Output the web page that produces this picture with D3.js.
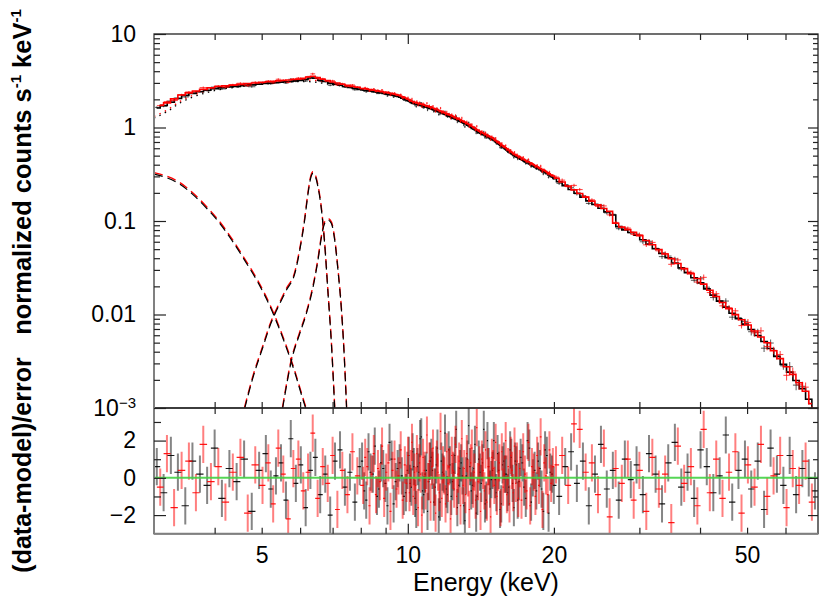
<!DOCTYPE html>
<html>
<head>
<meta charset="utf-8">
<script src="https://cdn.jsdelivr.net/npm/d3@7"></script>
<style>
  body { margin: 0; background: #fff; }
  text { font-family: "Liberation Sans", Arial, Helvetica, sans-serif; }
</style>
</head>
<body>
<script>
// ---------------- data ----------------
// FPMA (black): bin centres (keV), folded model, residuals (data-model)/error
var energyA = [3.04, 3.14, 3.25, 3.36, 3.48, 3.60, 3.73, 3.86, 4.00, 4.14, 4.29, 4.44, 4.60, 4.77, 4.94,
  5.10, 5.22, 5.35, 5.48, 5.61, 5.74, 5.88, 6.02, 6.16, 6.30, 6.45, 6.60, 6.76, 6.92, 7.08, 7.25, 7.42, 7.60, 7.78, 7.96,
  8.05, 8.13, 8.21, 8.30, 8.38, 8.47, 8.55, 8.64, 8.72, 8.81, 8.90, 8.99, 9.08, 9.17, 9.26, 9.35, 9.44, 9.53, 9.62, 9.72, 9.81, 9.91, 9.98,
  10.05, 10.11, 10.17, 10.23, 10.29, 10.35, 10.41, 10.47, 10.54, 10.60, 10.66, 10.72, 10.79, 10.85, 10.92, 10.98, 11.05, 11.11, 11.18, 11.24,
  11.31, 11.38, 11.45, 11.51, 11.58, 11.65, 11.72, 11.79, 11.86, 11.93,
  12.00, 12.07, 12.14, 12.21, 12.29, 12.36, 12.43, 12.50, 12.58, 12.65, 12.73, 12.80, 12.88, 12.96, 13.04, 13.11, 13.19, 13.27, 13.35, 13.43,
  13.51, 13.59, 13.67, 13.75, 13.83, 13.91,
  14.00, 14.08, 14.17, 14.25, 14.34, 14.42, 14.51, 14.59, 14.68, 14.77, 14.86, 14.95, 15.04, 15.13, 15.22, 15.31, 15.40, 15.49, 15.58, 15.67,
  15.77, 15.86, 15.96, 16.05, 16.15, 16.25, 16.34, 16.44, 16.54, 16.64, 16.74, 16.84, 16.94,
  17.08, 17.22, 17.36, 17.50, 17.65, 17.80, 17.95, 18.10, 18.25, 18.40, 18.55, 18.71, 18.86, 19.02, 19.18, 19.34, 19.50, 19.66, 19.82, 19.99,
  20.50, 21.10, 21.70, 22.30, 22.95, 23.60, 24.30, 25.00, 25.70, 26.45, 27.20, 28.00, 28.80, 29.60,
  30.5, 31.4, 32.4, 33.4, 34.4, 35.5, 36.6, 37.7, 38.9, 40.1, 41.3, 42.6, 43.9, 45.2, 46.6,
  48.0, 49.5, 51.0, 52.6, 54.2, 55.9, 57.6, 59.4, 61.2, 63.1, 65.0, 67.0, 69.0];
var modelA = [1.616, 1.721, 1.864, 2.043, 2.205, 2.309, 2.415, 2.507, 2.602, 2.659, 2.707, 2.754, 2.806, 2.859, 2.906,
  2.951, 2.983, 3.016, 3.049, 3.082, 3.115, 3.149, 3.189, 3.273, 3.38, 3.36, 3.20, 3.10, 2.981, 2.912, 2.830, 2.749, 2.681, 2.619, 2.558,
  2.528, 2.505, 2.484, 2.462, 2.442, 2.420, 2.400, 2.379, 2.360, 2.337, 2.314, 2.290, 2.267, 2.245, 2.222, 2.200, 2.178, 2.147, 2.106, 2.063, 2.022, 1.977, 1.945,
  1.910, 1.880, 1.850, 1.820, 1.801, 1.786, 1.770, 1.755, 1.737, 1.722, 1.708, 1.692, 1.676, 1.660, 1.644, 1.628, 1.612, 1.598, 1.579, 1.562,
  1.543, 1.524, 1.505, 1.488, 1.469, 1.450, 1.431, 1.413, 1.395, 1.377,
  1.358, 1.341, 1.324, 1.307, 1.288, 1.271, 1.255, 1.238, 1.219, 1.203, 1.184, 1.169, 1.150, 1.133, 1.113, 1.096, 1.077, 1.057, 1.039, 1.020,
  1.000, 0.982, 0.963, 0.944, 0.926, 0.908,
  0.886, 0.869, 0.856, 0.843, 0.830, 0.818, 0.805, 0.792, 0.780, 0.766, 0.754, 0.740, 0.725, 0.709, 0.692, 0.677, 0.662, 0.646, 0.632, 0.618,
  0.604, 0.590, 0.575, 0.563, 0.551, 0.537, 0.525, 0.514, 0.503, 0.493, 0.485, 0.477, 0.469,
  0.458, 0.448, 0.437, 0.427, 0.417, 0.408, 0.397, 0.388, 0.379, 0.370, 0.362, 0.353, 0.345, 0.337, 0.329, 0.321, 0.311, 0.303, 0.295, 0.286,
  0.263, 0.239, 0.217, 0.198, 0.180, 0.164, 0.150, 0.137, 0.1252, 0.116, 0.087, 0.0803, 0.0752, 0.0705,
  0.0631, 0.0566, 0.0505, 0.0451, 0.0404, 0.0356, 0.0315, 0.0280, 0.0247, 0.0218, 0.0188, 0.0161, 0.0139, 0.0120, 0.0103,
  0.00901, 0.00789, 0.00692, 0.00596, 0.00515, 0.00433, 0.00356, 0.00293, 0.00242, 0.00197, 0.00161, 0.00124, 0.00092];
var residA = [0.6, -0.8, 1.2, 0.3, -1.5, 0.9, 0.2, -0.4, 1.6, -1.1, 0.5, -0.2, 1.0, -1.8, 0.4,
  1.3, -0.6, 0.1, 0.8, -1.2, 2.1, -0.3, 0.7, -1.6, 0.4, 1.1, -0.9, 0.2, -2.0, 0.9, 1.5, -0.5, 0.3, -1.3, 0.6,
  0.9, -0.7, -1.2, 1.4, 0.3, 0.2, 1.7, -1.0, -0.6, 0.8, 0.5, -0.3, -1.5, 1.9, 1.0, -1.4, -0.2, 0.5, 0.8, 0.1, -1.0, -0.8, 0.4,
  1.2, -0.3, -0.5, 1.4, 0.6, -1.1, -1.7, 0.6, 0.3, 2.1, 2.2, -0.7, -0.9, 0.2, 0.4, -1.8, -0.2, 0.9, 1.1, 0.4,
  -1.3, -0.5, 0.7, 1.6, -2.1, -1.3, 0.9, 0.3, 0.2, 2.4,
  -0.6, -0.9, 1.5, 0.7, -1.0, -0.2, 0.3, 1.2, 2.6, -1.6, -0.4, 0.5, 0.8, 0.1, -1.5, -2.3, 0.1, 1.0, 2.8, 0.6,
  -0.7, -0.4, 0.5, 1.8, -1.9, -1.0,
  1.0, 0.3, -0.3, 0.8, 2.6, -1.4, -1.2, 2.0, 0.6, -0.6, -0.1, 0.4, 2.0, -0.1, -0.8, 1.3, 0.4, -1.7, -1.4, 0.7,
  0.9, 0.2, 0.2, -0.8, -0.5, 1.5, 1.1, -0.3, -1.6, 0.9, 0.7, -1.2, -0.2,
  1.1, 0.8, -0.5, -1.1, 2.0, 1.6, -1.3, 0.0, 0.4, -0.7, 0.9, 0.5, -0.6, -1.8, 1.5, 1.2, -1.9, 0.3, 0.2, -0.4,
  -1.0, 0.6, 1.4, -0.3, 0.9, -1.5, 0.2, 1.8, -0.6, 0.4, -1.2, 1.0, -0.1, 0.7,
  -0.9, 1.3, 0.2, -1.4, 0.8, 1.9, -0.5, 0.3, -1.1, 1.5, 0.6, -0.8, 0.1, 2.3, -1.3,
  0.4, 1.0, -0.6, 0.9, -1.7, 1.6, 0.2, -0.4, 1.2, -0.9, 0.5, 0.0, -0.7];

// FPMB (red)
var energyB = [3.09, 3.19, 3.30, 3.42, 3.54, 3.66, 3.79, 3.93, 4.07, 4.21, 4.36, 4.52, 4.68, 4.85,
  5.02, 5.16, 5.28, 5.41, 5.54, 5.67, 5.81, 5.95, 6.09, 6.23, 6.37, 6.52, 6.68, 6.84, 7.00, 7.16, 7.33, 7.51, 7.69, 7.87,
  8.09, 8.17, 8.25, 8.34, 8.42, 8.51, 8.60, 8.68, 8.76, 8.85, 8.94, 9.03, 9.12, 9.21, 9.30, 9.39, 9.48, 9.57, 9.67, 9.76, 9.86, 9.94, 10.01,
  10.08, 10.14, 10.20, 10.26, 10.32, 10.38, 10.44, 10.50, 10.57, 10.63, 10.69, 10.75, 10.82, 10.88, 10.95, 11.01, 11.08, 11.14, 11.21, 11.27,
  11.34, 11.41, 11.48, 11.54, 11.61, 11.68, 11.75, 11.82, 11.89, 11.96, 12.03, 12.10, 12.17, 12.25, 12.32, 12.39, 12.46, 12.54, 12.61, 12.69,
  12.76, 12.84, 12.92, 13.00, 13.07, 13.15, 13.23, 13.31, 13.39, 13.47, 13.55, 13.63, 13.71, 13.79, 13.87, 13.95, 14.04, 14.12, 14.21, 14.29,
  14.38, 14.46, 14.55, 14.63, 14.72, 14.81, 14.90, 14.99, 15.08, 15.17, 15.26, 15.35, 15.44, 15.53, 15.62, 15.72, 15.81, 15.91, 16.00, 16.10,
  16.20, 16.29, 16.39, 16.49, 16.59, 16.69, 16.79, 16.89, 17.01,
  17.15, 17.29, 17.43, 17.57, 17.72, 17.87, 18.02, 18.17, 18.32, 18.47, 18.63, 18.78, 18.94, 19.10, 19.26, 19.42, 19.58, 19.74, 19.90,
  20.20, 20.80, 21.40, 22.00, 22.60, 23.25, 23.95, 24.65, 25.35, 26.05, 26.80, 27.60, 28.40, 29.20,
  30.0, 31.0, 31.9, 32.9, 33.9, 34.9, 36.0, 37.1, 38.3, 39.5, 40.7, 41.9, 43.2, 44.5, 45.9,
  47.3, 48.7, 50.2, 51.8, 53.4, 55.0, 56.7, 58.5, 60.3, 62.1, 64.0, 66.0, 68.0];
var modelB = [1.669, 1.762, 1.947, 2.138, 2.257, 2.362, 2.457, 2.555, 2.635, 2.681, 2.729, 2.780, 2.830, 2.881,
  2.929, 2.967, 2.999, 3.032, 3.064, 3.098, 3.131, 3.165, 3.231, 3.33, 3.40, 3.28, 3.15, 3.05, 2.951, 2.873, 2.792, 2.713, 2.650, 2.589,
  2.517, 2.495, 2.473, 2.452, 2.431, 2.410, 2.390, 2.370, 2.349, 2.326, 2.302, 2.279, 2.256, 2.234, 2.211, 2.189, 2.163, 2.127, 2.085, 2.043, 2.000, 1.961, 1.928,
  1.895, 1.865, 1.835, 1.811, 1.794, 1.778, 1.763, 1.746, 1.730, 1.715, 1.700, 1.684, 1.668, 1.652, 1.636, 1.620, 1.605, 1.589, 1.571, 1.553,
  1.534, 1.515, 1.497, 1.479, 1.460, 1.441, 1.422, 1.404, 1.386, 1.368, 1.350, 1.333, 1.316, 1.298, 1.280, 1.263, 1.247, 1.229, 1.211, 1.194,
  1.177, 1.160, 1.142, 1.123, 1.105, 1.087, 1.067, 1.048, 1.030, 1.010, 0.991, 0.973, 0.954, 0.935, 0.917, 0.897, 0.878, 0.863, 0.850, 0.837,
  0.824, 0.812, 0.799, 0.786, 0.773, 0.760, 0.747, 0.733, 0.717, 0.701, 0.685, 0.670, 0.654, 0.639, 0.625, 0.611, 0.597, 0.583, 0.569, 0.557,
  0.544, 0.531, 0.520, 0.509, 0.498, 0.489, 0.481, 0.473, 0.464,
  0.453, 0.443, 0.432, 0.422, 0.413, 0.403, 0.393, 0.384, 0.375, 0.366, 0.358, 0.349, 0.341, 0.333, 0.325, 0.316, 0.307, 0.299, 0.291,
  0.276, 0.251, 0.228, 0.207, 0.189, 0.173, 0.157, 0.143, 0.131, 0.122, 0.091, 0.0830, 0.0777, 0.0726,
  0.0670, 0.0594, 0.0535, 0.0477, 0.0427, 0.0381, 0.0337, 0.0299, 0.0263, 0.0233, 0.0203, 0.0175, 0.0150, 0.0129, 0.0111,
  0.00959, 0.00845, 0.00743, 0.00641, 0.00553, 0.0048, 0.00394, 0.00324, 0.00266, 0.00220, 0.00179, 0.00145, 0.00107];
var residB = [-0.5, 1.3, -1.6, 0.4, 0.9, -0.8, 1.8, -0.2, 0.6, -1.3, 0.3, 1.1, -1.9, 0.7,
  -0.4, 0.8, -1.4, 1.6, 0.2, -2.2, 0.5, 1.0, -0.7, 0.3, 2.4, -1.1, 0.6, -0.3, 1.2, -1.7, 0.4, -0.9, 1.4, 0.1,
  -0.4, 1.1, 0.6, -1.5, 0.2, 1.3, -0.9, 0.5, -0.2, 1.7, -1.1, 0.3, 0.8, -1.8, 0.4, 1.0, -0.6, 0.1, 1.5, -1.2, 0.7, -0.3, 1.2,
  -0.8, 0.5, 1.9, -1.0, 0.3, -0.4, 1.3, -1.6, 0.8, 0.2, -2.0, 1.1, 0.4, -0.7, 2.3, -0.2, 0.9, -1.3, 0.6, 1.6,
  -0.5, -1.9, 1.0, 0.3, -0.8, 2.5, -1.1, 0.7, 0.1, -1.4, 1.4, -0.3, 0.6, -2.2, 1.2, 0.4, -0.6, 1.8, -1.0, 0.2,
  0.9, -1.5, 2.1, -0.4, 0.5, -0.9, 1.3, 0.0, -1.7, 0.8, 1.6, -0.6, 0.3, -1.2, 2.7, -0.2, 0.7, -1.8, 1.0, 0.4,
  -0.7, 1.5, -1.3, 0.6, 0.1, -2.1, 1.1, 0.5, -0.4, 1.9, -1.0, 0.3, 0.8, -1.6, 1.4, -0.5, 0.2, 2.0, -0.9, 0.6,
  -1.4, 1.2, 0.4, -0.8, 1.7, -0.3, 0.9, -1.1, 0.5,
  -1.2, 1.4, 0.2, -0.7, 1.9, -1.5, 0.6, 0.3, -1.0, 1.2, -0.4, 2.2, -1.7, 0.8, 0.1, -0.9, 1.5, -0.3, 0.6,
  0.7, 1.2, -0.4, 2.9, 2.6, 0.3, 0.8, -0.9, 1.6, -2.1, 0.5, -0.3, 1.0, -1.2,
  0.4, -1.8, 1.1, -0.6, 0.2, -2.4, 1.7, -0.3, 0.6, -1.5, 2.6, -0.8, 1.0, -1.1, 0.3,
  1.4, -1.9, 0.7, -0.5, 1.8, -1.0, 0.1, 1.2, -1.6, 0.5, -0.4, 0.9, -1.3];
var constB = 1.04;  // FPMB / FPMA cross-normalisation

// relative 1-sigma error of the binned data, per energy band
var errEdges = [3, 10, 20, 30, 40, 50, 60, 70];
var errPct = [2.5, 3, 4, 5.5, 7, 9, 12];

// model components (FPMA)
var contE = [3.0, 3.2, 3.4, 3.6, 3.83, 4.08, 4.34, 4.61, 4.9, 5.22, 5.55, 5.85, 6.1, 6.38, 6.6, 7.0, 7.47, 8.0];
var contV = [1.26, 1.49, 1.84, 2.11, 2.34, 2.54, 2.66, 2.77, 2.87, 2.97, 3.04, 3.09, 3.10, 3.07, 3.00, 2.86, 2.72, 2.54];
var softE = [3.0, 3.18, 3.39, 3.60, 3.83, 4.08, 4.34, 4.61, 4.91, 5.22, 5.55, 5.85, 6.07, 6.19];
var softV = [0.317, 0.291, 0.248, 0.194, 0.141, 0.0971, 0.0623, 0.0381, 0.0221, 0.0117, 0.0053, 0.0024, 0.00127, 0.00092];
var kaE = [4.61, 4.80, 5.03, 5.19, 5.45, 5.62, 5.85, 5.99, 6.13, 6.23, 6.31, 6.38, 6.45, 6.53, 6.64, 6.74, 6.85, 6.96, 7.07];
var kaV = [0.00098, 0.00214, 0.00449, 0.00735, 0.0131, 0.0182, 0.0274, 0.0487, 0.102, 0.197, 0.29, 0.323, 0.30, 0.232, 0.1306, 0.0574, 0.0167, 0.00488, 0.00099];
var kbE = [5.52, 5.76, 5.99, 6.18, 6.38, 6.53, 6.64, 6.74, 6.85, 6.96, 7.07, 7.18, 7.30, 7.38, 7.48];
var kbV = [0.00098, 0.00324, 0.00625, 0.0102, 0.0197, 0.0381, 0.0676, 0.094, 0.102, 0.094, 0.0623, 0.0297, 0.0111, 0.00449, 0.00099];

// tick labels
var xTickLabels = [5, 10, 20, 50];
var yTickLabels = [10, 1, 0.1, 0.01, 0.001];
var resTickLabels = [-2, 0, 2];
var resMinorTicks = [-1, 1, 3];

// ---------------- layout ----------------
var width = 831, height = 608;
var plotL = 154, plotR = 818, plotT = 34, plotMid = 408, plotB = 533.7;

var svg = d3.select("body").append("svg")
    .attr("width", width)
    .attr("height", height);

var x = d3.scaleLog().domain([3, 70]).range([plotL, plotR]);
var yTop = d3.scaleLog().domain([1e-3, 10]).range([plotMid, plotT]);
var yRes = d3.scaleLinear().domain([-3, 3.75]).range([plotB, plotMid]);

var defs = svg.append("defs");
defs.append("clipPath").attr("id", "clipTop").append("rect")
    .attr("x", plotL).attr("y", plotT).attr("width", plotR - plotL).attr("height", plotMid - plotT);
defs.append("clipPath").attr("id", "clipRes").append("rect")
    .attr("x", plotL).attr("y", plotMid).attr("width", plotR - plotL).attr("height", plotB - plotMid);

function errFor(e) {
    for (var i = 0; i < errPct.length; i++) {
        if (e < errEdges[i + 1]) return errPct[i] / 100;
    }
    return errPct[errPct.length - 1] / 100;
}

// build rows with bin edges (geometric mid-points between neighbouring bins)
function makeRows(E, M, R, norm) {
    var n = Math.min(E.length, M.length, R.length);
    E = E.slice(0, n);
    return E.map(function (e, i) {
        var hi = i < n - 1 ? Math.sqrt(e * E[i + 1]) : null;
        var lo = i > 0 ? Math.sqrt(E[i - 1] * e) : null;
        if (lo === null) lo = e * e / hi;
        if (hi === null) hi = e * e / lo;
        var m = M[i] * norm, err = errFor(e);
        return { e: e, lo: lo, hi: hi, m: m, r: R[i], err: err, f: m * (1 + R[i] * err) };
    });
}

var rowsA = makeRows(energyA, modelA, residA, 1);
var rowsB = makeRows(energyB, modelB, residB, constB);

// ---------------- top panel ----------------
var topG = svg.append("g").attr("clip-path", "url(#clipTop)");

var compLine = d3.line()
    .x(function (d) { return x(d[0]); })
    .y(function (d) { return yTop(d[1]); })
    .curve(d3.curveMonotoneX);

function drawComponent(E, V, norm, color, dash, w) {
    topG.append("path")
        .datum(E.map(function (e, i) { return [e, V[i] * norm]; }))
        .attr("d", compLine)
        .attr("fill", "none")
        .attr("stroke", color)
        .attr("stroke-width", w)
        .attr("stroke-dasharray", dash);
}

[[softE, softV], [kaE, kaV], [kbE, kbV]].forEach(function (c) {
    drawComponent(c[0], c[1], constB, "#f00", "9,5", 1.4);
    drawComponent(c[0], c[1], 1, "#000", "9,5", 1.2);
});
drawComponent(contE, contV, constB, "#f00", "1.5,4.5", 1.3);
drawComponent(contE, contV, 1, "#000", "1.5,4.5", 1.3);

function drawData(rows, color, opacity) {
    var g = topG.append("g");
    g.selectAll("line.v").data(rows).enter().append("line")
        .attr("x1", function (d) { return x(d.e); })
        .attr("x2", function (d) { return x(d.e); })
        .attr("y1", function (d) { return yTop(d.f * (1 - d.err)); })
        .attr("y2", function (d) { return yTop(d.f * (1 + d.err)); })
        .attr("stroke", color).attr("stroke-opacity", opacity).attr("stroke-width", 1.1);
    g.selectAll("line.h").data(rows).enter().append("line")
        .attr("x1", function (d) { return x(d.lo); })
        .attr("x2", function (d) { return x(d.hi); })
        .attr("y1", function (d) { return yTop(d.f); })
        .attr("y2", function (d) { return yTop(d.f); })
        .attr("stroke", color).attr("stroke-opacity", opacity).attr("stroke-width", 1.1);
}

var modelLine = d3.line()
    .x(function (d) { return x(d.e); })
    .y(function (d) { return yTop(d.m); })
    .curve(d3.curveStep);

function drawModel(rows, color) {
    topG.append("path")
        .datum(rows)
        .attr("d", modelLine)
        .attr("fill", "none")
        .attr("stroke", color)
        .attr("stroke-width", 1.6);
}

drawData(rowsA, "#000", 0.6);
drawModel(rowsA, "#000");
drawData(rowsB, "#f00", 0.7);
drawModel(rowsB, "#f00");

// ---------------- residual panel ----------------
var resG = svg.append("g").attr("clip-path", "url(#clipRes)");

function drawResid(rows, color, opacity) {
    var g = resG.append("g");
    g.selectAll("line.bar").data(rows).enter().append("line")
        .attr("x1", function (d) { return x(d.e); })
        .attr("x2", function (d) { return x(d.e); })
        .attr("y1", function (d) { return yRes(d.r - 1); })
        .attr("y2", function (d) { return yRes(d.r + 1); })
        .attr("stroke", color).attr("stroke-opacity", opacity).attr("stroke-width", 2);
    g.selectAll("line.mid").data(rows).enter().append("line")
        .attr("x1", function (d) { return x(d.lo); })
        .attr("x2", function (d) { return x(d.hi); })
        .attr("y1", function (d) { return yRes(d.r); })
        .attr("y2", function (d) { return yRes(d.r); })
        .attr("stroke", color).attr("stroke-opacity", 0.9).attr("stroke-width", 1.2);
}

drawResid(rowsA, "#000", 0.48);
drawResid(rowsB, "#f00", 0.5);

resG.append("line")
    .attr("x1", x(3)).attr("x2", x(70))
    .attr("y1", yRes(0)).attr("y2", yRes(0))
    .attr("stroke", "#44d244").attr("stroke-opacity", 0.9).attr("stroke-width", 2);

// ---------------- frames ----------------
svg.append("rect").attr("x", plotL).attr("y", plotT).attr("width", plotR - plotL).attr("height", plotMid - plotT)
    .attr("fill", "none").attr("stroke", "#222").attr("stroke-width", 1.3);
svg.append("rect").attr("x", plotL).attr("y", plotMid).attr("width", plotR - plotL).attr("height", plotB - plotMid)
    .attr("fill", "none").attr("stroke", "#222").attr("stroke-width", 1.3);
svg.append("line").attr("x1", plotL).attr("x2", plotL).attr("y1", plotT).attr("y2", plotB)
    .attr("stroke", "#808080").attr("stroke-width", 2);
svg.append("line").attr("x1", plotL).attr("x2", plotR).attr("y1", plotB).attr("y2", plotB)
    .attr("stroke", "#808080").attr("stroke-width", 2);

// ---------------- axes ----------------
function addAxis(axis, tx, ty) {
    var g = svg.append("g")
        .attr("transform", "translate(" + tx + "," + ty + ")")
        .call(axis);
    g.select(".domain").remove();
    g.selectAll(".tick line").attr("stroke", "#222").attr("stroke-width", 1.2);
    g.selectAll(".tick text")
        .attr("fill", "#000")
        .attr("font-size", 23)
        .attr("font-family", "'Liberation Sans', Arial, Helvetica, sans-serif");
    return g;
}

function isDecade(v) {
    var l = Math.log10(v);
    return Math.abs(l - Math.round(l)) < 1e-6;
}

var xAll = x.ticks();
var xMajor = xAll.filter(isDecade);
var xMinor = xAll.filter(function (d) { return !isDecade(d) && d > 3 && d < 70; });

// x ticks: top border, both sides of the divider, bottom border (all pointing inward)
[[d3.axisTop, plotT], [d3.axisBottom, plotMid], [d3.axisTop, plotMid], [d3.axisBottom, plotB]].forEach(function (a) {
    addAxis(a[0](x).tickValues(xMinor).tickSizeInner(-6).tickSizeOuter(0).tickFormat(""), 0, a[1]);
    addAxis(a[0](x).tickValues(xMajor).tickSizeInner(-10).tickSizeOuter(0).tickFormat(""), 0, a[1]);
});
addAxis(d3.axisBottom(x).tickValues(xTickLabels).tickSize(0).tickPadding(12.5).tickFormat(d3.format("d")), 0, plotB);

var yAll = yTop.ticks();
var yMajor = yAll.filter(isDecade);
var yMinor = yAll.filter(function (d) { return !isDecade(d); });

addAxis(d3.axisLeft(yTop).tickValues(yMinor).tickSizeInner(-6).tickSizeOuter(0).tickFormat(""), plotL, 0);
addAxis(d3.axisLeft(yTop).tickValues(yMajor).tickSizeInner(-12).tickSizeOuter(0).tickFormat(""), plotL, 0);
addAxis(d3.axisRight(yTop).tickValues(yMinor).tickSizeInner(-5).tickSizeOuter(0).tickFormat(""), plotR, 0);
addAxis(d3.axisRight(yTop).tickValues(yMajor).tickSizeInner(-10).tickSizeOuter(0).tickFormat(""), plotR, 0);

var yLab = addAxis(d3.axisLeft(yTop).tickValues(yTickLabels).tickSize(0).tickPadding(18)
    .tickFormat(d3.format("~g")), plotL, 0);
yLab.selectAll(".tick text").filter(function (d) { return d < 0.005; })
    .each(function () {
        var t = d3.select(this).text("");
        t.append("tspan").text("10");
        t.append("tspan").attr("dy", "-8").attr("font-size", 15).text("\u22123");
    });

addAxis(d3.axisLeft(yRes).tickValues(resMinorTicks).tickSizeInner(-7).tickSizeOuter(0).tickFormat(""), plotL, 0);
addAxis(d3.axisLeft(yRes).tickValues(resTickLabels).tickSizeInner(-12).tickSizeOuter(0).tickFormat(""), plotL, 0);
addAxis(d3.axisRight(yRes).tickValues(resMinorTicks).tickSizeInner(-5).tickSizeOuter(0).tickFormat(""), plotR, 0);
addAxis(d3.axisRight(yRes).tickValues(resTickLabels).tickSizeInner(-10).tickSizeOuter(0).tickFormat(""), plotR, 0);
addAxis(d3.axisLeft(yRes).tickValues(resTickLabels).tickSize(0).tickPadding(18).tickFormat(d3.format("d")), plotL, 0);

// ---------------- titles ----------------
svg.append("text")
    .attr("x", (plotL + plotR) / 2)
    .attr("y", 591)
    .attr("text-anchor", "middle")
    .attr("font-size", 25)
    .text("Energy (keV)");

var yt = svg.append("text")
    .attr("transform", "translate(31,172) rotate(-90)")
    .attr("text-anchor", "middle")
    .attr("font-size", 25.5)
    .attr("font-weight", "bold");
yt.append("tspan").text("normalized counts s");
yt.append("tspan").attr("dy", -10).attr("font-size", 15).text("-1");
yt.append("tspan").attr("dy", 10).text(" keV");
yt.append("tspan").attr("dy", -10).attr("font-size", 15).text("-1");

svg.append("text")
    .attr("transform", "translate(31,465) rotate(-90)")
    .attr("text-anchor", "middle")
    .attr("font-size", 25)
    .attr("font-weight", "bold")
    .text("(data-model)/error");
</script>
</body>
</html>
